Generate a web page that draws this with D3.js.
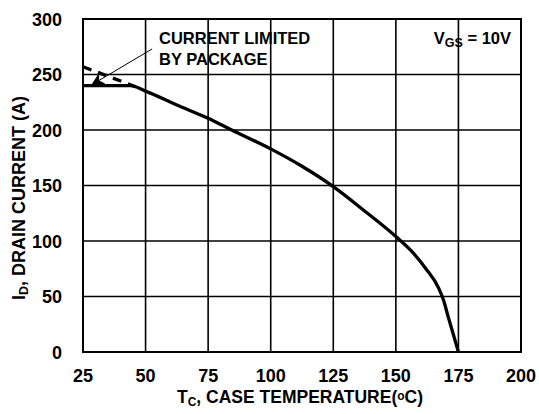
<!DOCTYPE html>
<html>
<head>
<meta charset="utf-8">
<script src="https://cdn.jsdelivr.net/npm/d3@7"></script>
<style>
  body { margin: 0; background: #fff; }
  text { font-family: "Liberation Sans", Arial, sans-serif; font-weight: bold; fill: #000; }
</style>
</head>
<body>
<svg id="chart" width="539" height="414"></svg>
<script>
// tick values
const xTicks = [25, 50, 75, 100, 125, 150, 175, 200];
const yTicks = [0, 50, 100, 150, 200, 250, 300];

// derating curve: case temperature (C) vs drain current (A)
const tempC = [25, 44, 50, 62.5, 75, 84.4, 100, 112, 125, 137, 150, 157, 162, 167, 169, 171, 173, 175];
const drainA = [240, 240, 235, 222.5, 210.5, 200, 183, 168, 149, 128, 104, 89, 75, 58, 47, 31, 15.5, 0];

// package limit (dashed)
const pkgTemp = [25, 46];
const pkgAmp = [257, 239];

const margin = { left: 83, right: 18, top: 19, bottom: 62 };
const width = 539, height = 414;

const svg = d3.select('#chart');

const x = d3.scaleLinear().domain([25, 200]).range([margin.left, width - margin.right]);
const y = d3.scaleLinear().domain([0, 300]).range([height - margin.bottom, margin.top]);

// grid
const grid = svg.append('g').attr('stroke', '#000').attr('stroke-width', 1.6);
grid.selectAll('.vx').data(xTicks).join('line')
  .attr('x1', d => x(d)).attr('x2', d => x(d))
  .attr('y1', y(0)).attr('y2', y(300));
grid.selectAll('.hy').data(yTicks).join('line')
  .attr('x1', x(25)).attr('x2', x(200))
  .attr('y1', d => y(d)).attr('y2', d => y(d));

svg.append('rect')
  .attr('x', x(25)).attr('y', y(300))
  .attr('width', x(200) - x(25)).attr('height', y(0) - y(300))
  .attr('fill', 'none').attr('stroke', '#000').attr('stroke-width', 2);

// tick labels
svg.append('g').selectAll('text').data(xTicks).join('text')
  .attr('x', d => x(d)).attr('y', 382)
  .attr('text-anchor', 'middle')
  .style('font-size', '18px')
  .text(d => d);
svg.append('g').selectAll('text').data(yTicks).join('text')
  .attr('x', 62).attr('y', d => y(d) + 6.5)
  .attr('text-anchor', 'end')
  .style('font-size', '18px')
  .text(d => d);

// axis titles
const xt = svg.append('text')
  .attr('x', 300).attr('y', 403)
  .attr('text-anchor', 'middle')
  .style('font-size', '17.5px');
xt.append('tspan').text('T');
xt.append('tspan').attr('dy', 3).style('font-size', '12px').text('C');
xt.append('tspan').attr('dy', -3).text(', CASE TEMPERATURE(');
xt.append('tspan').attr('dy', -3).style('font-size', '12px').text('o');
xt.append('tspan').attr('dy', 3).text('C)');

const yt = svg.append('text')
  .attr('transform', 'translate(25,198) rotate(-90)')
  .attr('text-anchor', 'middle')
  .style('font-size', '18px');
yt.append('tspan').text('I');
yt.append('tspan').attr('dy', 3).style('font-size', '12.5px').text('D');
yt.append('tspan').attr('dy', -3).text(', DRAIN CURRENT (A)');

// curves
const line = d3.line().x(d => x(d[0])).y(d => y(d[1])).curve(d3.curveMonotoneX);

svg.append('path')
  .datum(tempC.map((t, i) => [t, drainA[i]]))
  .attr('d', line)
  .attr('fill', 'none').attr('stroke', '#000').attr('stroke-width', 3.3)
  .attr('stroke-linejoin', 'round');

svg.append('path')
  .datum(pkgTemp.map((t, i) => [t, pkgAmp[i]]))
  .attr('d', d3.line().x(d => x(d[0])).y(d => y(d[1])))
  .attr('fill', 'none').attr('stroke', '#000').attr('stroke-width', 3.3)
  .attr('stroke-dasharray', '9,7');

// annotation
const defs = svg.append('defs');
defs.append('marker')
  .attr('id', 'arrow').attr('viewBox', '0 0 10 10')
  .attr('refX', 10).attr('refY', 5)
  .attr('markerWidth', 13).attr('markerHeight', 13)
  .attr('markerUnits', 'userSpaceOnUse')
  .attr('orient', 'auto')
  .append('path').attr('d', 'M0,0 L10,5 L0,10 L3,5 Z').attr('fill', '#000');

svg.append('line')
  .attr('x1', x(52.6)).attr('y1', y(273))
  .attr('x2', x(28.3)).attr('y2', y(240.5))
  .attr('stroke', '#000').attr('stroke-width', 1)
  .attr('marker-end', 'url(#arrow)');

svg.append('text').attr('x', 159).attr('y', 43.5).style('font-size', '16.5px').text('CURRENT LIMITED');
svg.append('text').attr('x', 159).attr('y', 64.5).style('font-size', '16.5px').text('BY PACKAGE');

const vg = svg.append('text').attr('x', 511).attr('y', 43.5)
  .attr('text-anchor', 'end').style('font-size', '16.5px');
vg.append('tspan').text('V');
vg.append('tspan').attr('dy', 3).style('font-size', '12.5px').text('GS');
vg.append('tspan').attr('dy', -3).text(' = 10V');
</script>
</body>
</html>
